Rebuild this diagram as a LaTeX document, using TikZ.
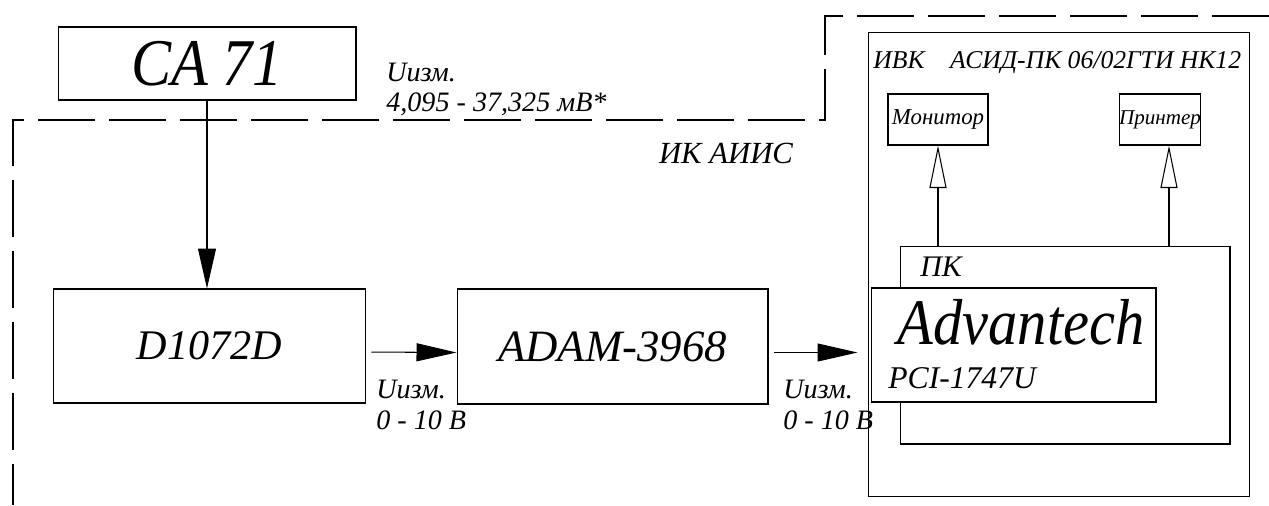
\documentclass[tikz,border=0pt]{standalone}
\usepackage{fontspec}
\usepackage{graphicx}
\setmainfont{Liberation Serif}
\usetikzlibrary{arrows.meta,positioning,calc}
\tikzset{
  blk/.style={rectangle,draw,line width=0.6pt,inner sep=0pt,fill=white},
  arr/.style={-{Triangle[length=0.8cm,width=0.36cm]},line width=0.6pt},
  oarr/.style={-{Triangle[open,length=0.85cm,width=0.34cm]},line width=0.6pt},
  bnd/.style={line width=0.6pt,dash pattern=on 1.15cm off 0.27cm},
  lbl/.style={align=left,inner sep=0pt}
}
\newcommand{\fsz}[1]{\fontsize{#1}{1.17\dimexpr #1pt\relax}\selectfont\itshape}
\newcommand{\narrow}[1]{\scalebox{0.9}[1]{#1}}

\begin{document}
\begin{tikzpicture}[x=0.02cm,y=-0.02cm]
  \useasboundingbox (0,0) rectangle (1269,505);
  % dashed border of the channel
  \draw[bnd] (1269,16) -- (825,16) -- (825,120) -- (13,120) -- (13,505);

  \node[blk,minimum width=5.96cm,minimum height=1.46cm,font=\fsz{38}] (ca) at (207,63.5) {\narrow{CA 71}};
  \node[blk,minimum width=6.26cm,minimum height=2.28cm,font=\fsz{24}] (d1072) at (209.5,346) {D1072D};
  \node[blk,minimum width=6.22cm,minimum height=2.3cm,font=\fsz{25.5}] (adam) at (612.5,346.5) {ADAM-3968};

  % IVK
  \node[blk,fill=none,minimum width=7.64cm,minimum height=9.3cm] (ivk) at (1059,264.5) {};
  \node[lbl,anchor=west,font=\fsz{14.6}] (ivkt) at (873,63) {ИВК\quad АСИД-ПК 06/02ГТИ НК12};
  \node[blk,minimum width=2cm,minimum height=1.02cm,font=\fsz{13}] (mon) at (938,119.5) {Монитор};
  \node[blk,minimum width=1.6cm,minimum height=1.02cm,font=\fsz{12}] (prn) at (1160,119.5) {Принтер};
  \node[blk,minimum width=6.6cm,minimum height=3.96cm] (pk) at (1065,345) {};
  \node[lbl,anchor=west,font=\fsz{17}] (pkt) at (920,267) {ПК};
  \node[blk,minimum width=5.7cm,minimum height=2.28cm] (adv) at (1013.5,345) {};
  \node[lbl,font=\fsz{37}] (advt) at (1021,322) {\narrow{Advantech}};
  \node[lbl,anchor=west,font=\fsz{18}] (pci) at (888,378) {PCI-1747U};

  \draw[arr] (ca.south) -- (ca.south |- d1072.north);
  \draw[arr,shorten <=0.1cm] ([yshift=-0.12cm]d1072.east) -- ([yshift=-0.12cm]adam.west);
  \draw[arr,shorten <=0.1cm,shorten >=0.26cm] ([yshift=-0.12cm]adam.east) -- ([yshift=-0.12cm]adam.east -| adv.west);
  \draw[oarr] (mon.south |- pk.north) -- (mon.south);
  \draw[oarr] ([xshift=0.18cm]prn.south |- pk.north) -- ([xshift=0.18cm]prn.south);

  \node[lbl,anchor=north west,font={\fontsize{16}{17}\selectfont\itshape}] (u1) at (386,63) {Uизм.\\4,095 - 37,325 мВ*};
  \node[lbl,anchor=north west,font={\fontsize{16}{17.5}\selectfont\itshape}] (u2) at (376,380) {Uизм.\\0 - 10 В};
  \node[lbl,anchor=north west,font={\fontsize{16}{17.5}\selectfont\itshape}] (u3) at (783,380) {Uизм.\\0 - 10 В};
  \node[lbl,font=\fsz{17.5}] (ikt) at (726,153) {ИК АИИС};
\end{tikzpicture}
\end{document}
